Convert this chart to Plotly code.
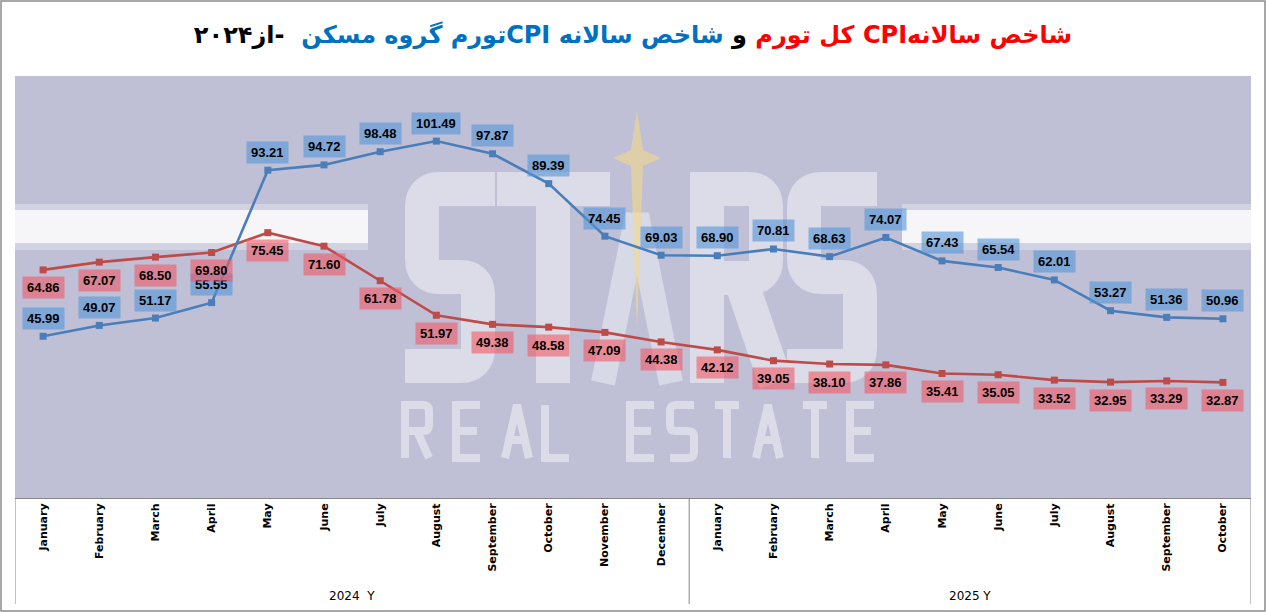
import plotly.graph_objects as go

# ---------------- data ----------------
months_2024 = ["January", "February", "March", "April", "May", "June", "July",
               "August", "September", "October", "November", "December"]
months_2025 = ["January", "February", "March", "April", "May", "June", "July",
               "August", "September", "October"]
year_labels = ["2024\u00a0 Y", "2025 Y"]

housing_cpi = [45.99, 49.07, 51.17, 55.55, 93.21, 94.72, 98.48, 101.49, 97.87, 89.39,
               74.45, 69.03, 68.90, 70.81, 68.63, 74.07, 67.43, 65.54, 62.01, 53.27,
               51.36, 50.96]
total_cpi = [64.86, 67.07, 68.50, 69.80, 75.45, 71.60, 61.78, 51.97, 49.38, 48.58,
             47.09, 44.38, 42.12, 39.05, 38.10, 37.86, 35.41, 35.05, 33.52, 32.95,
             33.29, 32.87]

months = months_2024 + months_2025
xs = list(range(len(months)))
groups = [(year_labels[0], 0, len(months_2024) - 1),
          (year_labels[1], len(months_2024), len(months) - 1)]

BLUE = "#4A7EBB"
RED = "#BE4B48"

# ---------------- layout geometry (pixels) ----------------
W, H = 1266, 612
PL, PR, PT, PB = 15, 1251, 76, 498   # plot area edges


def paper(px, py):
    return (px - PL) / (PR - PL), (PB - py) / (PB - PT)


def path(cmds):
    out = []
    for c in cmds:
        op, pts = c[0], c[1:]
        coords = []
        for i in range(0, len(pts), 2):
            x, y = paper(pts[i], pts[i + 1])
            coords.append(f"{x:.5f},{y:.5f}")
        out.append(op + " " + " ".join(coords))
    return " ".join(out)


fig = go.Figure()

fig.add_trace(go.Scatter(
    x=xs, y=total_cpi, mode="lines+markers",
    line=dict(color=RED, width=2.6),
    marker=dict(symbol="square", size=7, color=RED),
    hoverinfo="skip"))
fig.add_trace(go.Scatter(
    x=xs, y=housing_cpi, mode="lines+markers",
    line=dict(color=BLUE, width=2.6),
    marker=dict(symbol="square", size=7, color=BLUE),
    hoverinfo="skip"))

annotations = []
label_font = dict(family="Liberation Sans, Arial", size=13, color="black", weight="bold")
for x, v in zip(xs, housing_cpi):
    annotations.append(dict(x=x, y=v, xref="x", yref="y", text=f"{v:.2f}",
                            showarrow=False, yshift=18, font=label_font,
                            bgcolor="rgba(84,149,214,0.6)", borderpad=4, height=13))
for x, v in zip(xs, total_cpi):
    annotations.append(dict(x=x, y=v, xref="x", yref="y", text=f"{v:.2f}",
                            showarrow=False, yshift=-18, font=label_font,
                            bgcolor="rgba(242,89,100,0.6)", borderpad=4, height=13))

# group (year) labels
for name, a, b in groups:
    annotations.append(dict(x=(a + b) / 2, y=paper(0, 596)[1], xref="x", yref="paper",
                            text=name, showarrow=False, yanchor="middle",
                            font=dict(family="DejaVu Sans", size=12, color="black")))

shapes = []
# watermark: white bands
for (x0, x1) in [(PL, 368), (902, PR)]:
    a0, b0 = paper(x0, 204)
    a1, b1 = paper(x1, 250)
    shapes.append(dict(type="rect", xref="paper", yref="paper", x0=a0, x1=a1, y0=b1, y1=b0,
                       fillcolor="white", opacity=0.3, line_width=0, layer="below"))
    a0, b0 = paper(x0, 210)
    a1, b1 = paper(x1, 243)
    shapes.append(dict(type="rect", xref="paper", yref="paper", x0=a0, x1=a1, y0=b1, y1=b0,
                       fillcolor="white", opacity=0.8, line_width=0, layer="below"))


def big_S(x0):
    l, r, t, b, m = x0 + 17, x0 + 73, 189, 366, 277
    return [("M", x0 + 90, t), ("L", x0 + 35, t), ("Q", l, t, l, t + 18), ("L", l, m - 18),
            ("Q", l, m, x0 + 35, m), ("L", x0 + 55, m), ("Q", r, m, r, m + 18),
            ("L", r, b - 18), ("Q", r, b, x0 + 55, b), ("L", x0, b)]


big = []
big += big_S(405)
big += [("M", 497, 189), ("L", 610, 189), ("M", 553, 189), ("L", 553, 383)]
big += [("M", 707, 172), ("L", 707, 383), ("M", 707, 189), ("L", 748, 189),
        ("Q", 766, 189, 766, 207), ("L", 766, 260), ("Q", 766, 278, 748, 278), ("L", 707, 278),
        ("M", 740, 278), ("L", 776, 383)]
big += big_S(787)
shapes.append(dict(type="path", xref="paper", yref="paper", path=path(big),
                   line=dict(color="white", width=34), opacity=0.45, layer="below"))
shapes.append(dict(type="path", xref="paper", yref="paper",
                   path=path([("M", 603, 383), ("L", 637, 215), ("L", 671, 383)]),
                   line=dict(color="white", width=24), opacity=0.4, layer="below"))
shapes.append(dict(type="path", xref="paper", yref="paper",
                   path=path([("M", 637, 110), ("L", 643, 150), ("L", 661, 158), ("L", 643, 166),
                              ("L", 637, 330), ("L", 631, 166), ("L", 613, 158), ("L", 631, 150),
                              ("Z",)]),
                   fillcolor="#F3D98A", line_width=0, opacity=0.6, layer="below"))


def small_letter(ch, cx):
    l, r, t, b, m = cx - 12, cx + 12, 405, 458, 431
    if ch == "R":
        return [("M", l, b), ("L", l, t), ("L", r - 6, t), ("Q", r, t, r, t + 6), ("L", r, m - 6),
                ("Q", r, m, r - 6, m), ("L", l, m), ("M", cx, m), ("L", r, b)]
    if ch == "E":
        return [("M", r, t), ("L", l, t), ("L", l, b), ("L", r, b), ("M", l, m), ("L", r - 3, m)]
    if ch == "A":
        return [("M", l, b), ("L", cx, t), ("L", r, b), ("M", l + 6, 440), ("L", r - 6, 440)]
    if ch == "L":
        return [("M", l, t), ("L", l, b), ("L", r, b)]
    if ch == "S":
        return [("M", r, t), ("L", l + 6, t), ("Q", l, t, l, t + 6), ("L", l, m - 6),
                ("Q", l, m, l + 6, m), ("L", r - 6, m), ("Q", r, m, r, m + 6), ("L", r, b - 6),
                ("Q", r, b, r - 6, b), ("L", l, b)]
    if ch == "T":
        return [("M", l, t), ("L", r, t), ("M", cx, t), ("L", cx, b)]
    return []


small = []
for ch, cx in zip("REALESTATE", [417, 468, 517, 557, 642, 682, 727, 768, 815, 862]):
    small += small_letter(ch, cx)
shapes.append(dict(type="path", xref="paper", yref="paper", path=path(small),
                   line=dict(color="white", width=8), opacity=0.45, layer="below"))

# category-axis dividers
yb = paper(0, 604)[1]
for gx in [groups[0][1] - 0.5, groups[0][2] + 0.5, groups[1][2] + 0.5]:
    shapes.append(dict(type="line", xref="x", yref="paper", x0=gx, x1=gx, y0=0, y1=yb,
                       line=dict(color="#868686", width=1)))
# outer frame
fx0, fy0 = paper(1, 1)
fx1, fy1 = paper(1265, 611)
shapes.append(dict(type="rect", xref="paper", yref="paper", x0=fx0, x1=fx1, y0=fy1, y1=fy0,
                   line=dict(color="#8C8C8C", width=1.5), fillcolor="rgba(0,0,0,0)"))

title_text = ("\u202B<span style='color:#FF0000'>شاخص سالانهCPI کل تورم</span>"
              "<span style='color:#000000'> و </span>"
              "<span style='color:#0070C0'>شاخص سالانه CPIتورم گروه مسکن</span>"
              "<span style='color:#000000'>  -از۲۰۲۴</span>\u202C")

fig.update_layout(
    width=W, height=H,
    margin=dict(l=PL, r=W - PR, t=PT, b=H - PB),
    paper_bgcolor="white", plot_bgcolor="#BFC0D6",
    showlegend=False,
    title=dict(text=title_text, x=0.5, xanchor="center", y=1 - 35 / H, yanchor="middle",
               font=dict(family="DejaVu Sans", size=24, weight="bold", color="black")),
    xaxis=dict(range=[-0.5, len(months) - 0.5], tickvals=xs, ticktext=months,
               tickangle=-90, ticks="", showgrid=False, zeroline=False,
               showline=True, linecolor="#868686", linewidth=1,
               tickfont=dict(family="DejaVu Sans", size=11, color="black", weight="bold"),
               fixedrange=True),
    yaxis=dict(range=[0, 120], visible=False, showgrid=False, zeroline=False, fixedrange=True),
    annotations=annotations,
    shapes=shapes,
)

fig.write_html("out.html")
